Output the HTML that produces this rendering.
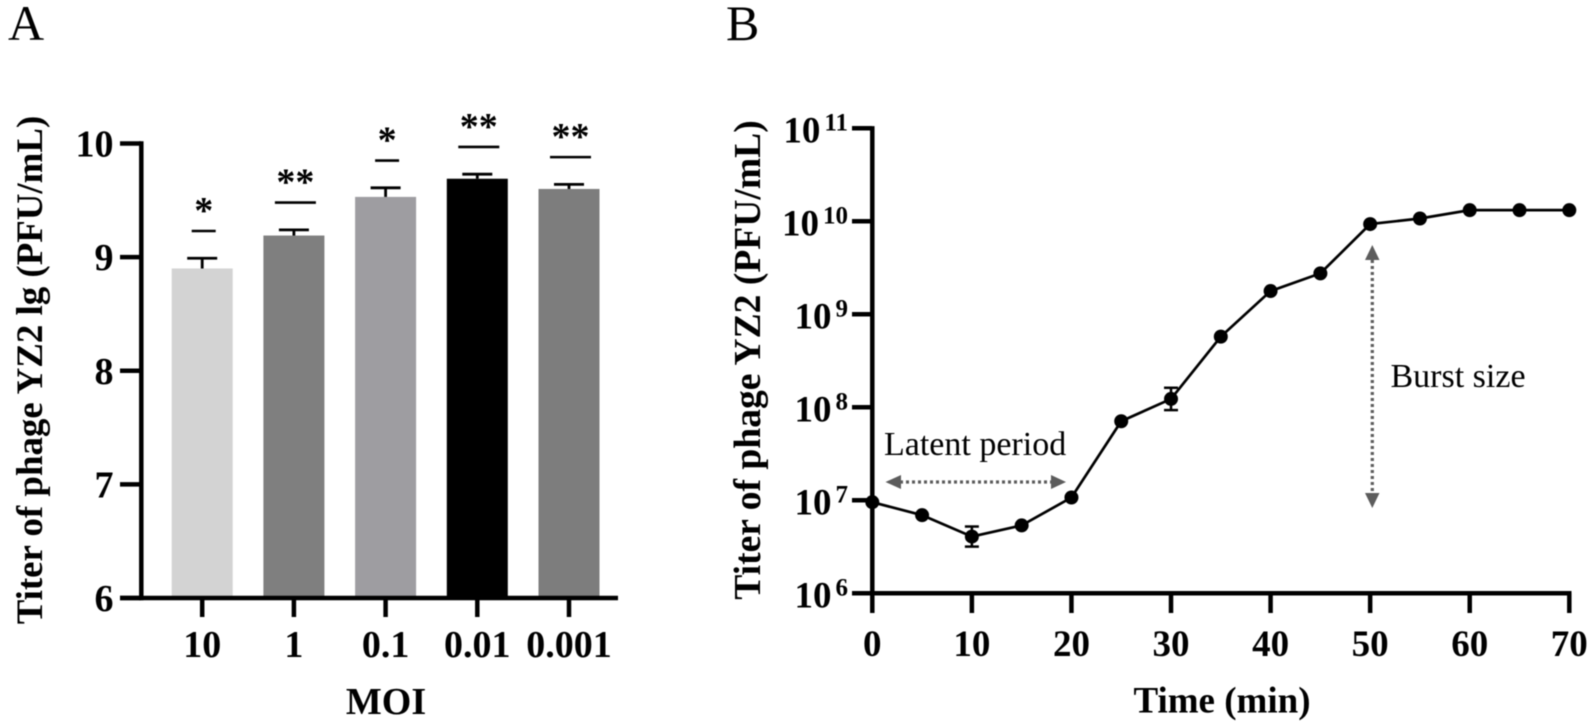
<!DOCTYPE html>
<html>
<head>
<meta charset="utf-8">
<title>Phage YZ2 titer charts</title>
<style>
html,body{margin:0;padding:0;background:#fff;width:1595px;height:728px;overflow:hidden}
svg{display:block;filter:blur(0.45px)}
text{font-family:"Liberation Serif",serif;fill:#000}
.b{font-weight:bold}
</style>
</head>
<body>
<svg id="fig" xmlns="http://www.w3.org/2000/svg" width="1595" height="728" viewBox="0 0 1595 728">
<rect width="1595" height="728" fill="#fff"/>
<text x="8" y="40" font-size="50">A</text>
<text x="726" y="40" font-size="50">B</text>
<g id="a"></g>
<g id="b"></g>
</svg>
<script>
// Panel A data
const moiCategories = ['10', '1', '0.1', '0.01', '0.001'];
const titerValues = [8.9, 9.19, 9.53, 9.69, 9.6];
const titerErrors = [0.09, 0.05, 0.08, 0.04, 0.04];
const sigLineValues = [9.23, 9.48, 9.85, 9.97, 9.88];
const sigLabels = ['*', '**', '*', '**', '**'];
const barColors = ['#d3d3d3', '#7f7f7f', '#9e9da1', '#000000', '#7d7d7d'];
const yTicksA = [6, 7, 8, 9, 10];

// Panel B data
const timeValues = [0, 5, 10, 15, 20, 25, 30, 35, 40, 45, 50, 55, 60, 65, 70];
const logTiter = [6.98, 6.84, 6.61, 6.73, 7.03, 7.85, 8.09, 8.76, 9.25, 9.44, 9.97, 10.03, 10.12, 10.12, 10.12];
const logTiterErr = [0, 0, 0.108, 0, 0, 0, 0.12, 0, 0, 0, 0, 0, 0, 0, 0];
const xTicksB = [0, 10, 20, 30, 40, 50, 60, 70];
const yExponents = [6, 7, 8, 9, 10, 11];

const NS = 'http://www.w3.org/2000/svg';
function mk(parent, tag, attrs, txt) {
  const e = document.createElementNS(NS, tag);
  for (const k in attrs) e.setAttribute(k, attrs[k]);
  if (txt !== undefined) e.textContent = txt;
  parent.appendChild(e);
  return e;
}
function line(parent, x1, y1, x2, y2, w, c) {
  return mk(parent, 'line', {x1: x1, y1: y1, x2: x2, y2: y2, stroke: c || '#000', 'stroke-width': w});
}

/* ---------- Panel A ---------- */
const A = document.getElementById('a');
const yA = v => 598 + (v - 6) * (143.5 - 598) / 4;
const xA = i => 202.2 + i * 91.7;
const BAR_W = 61;

moiCategories.forEach((c, i) => {
  const v = titerValues[i], cx = xA(i);
  const bar = mk(A, 'rect', {x: cx - BAR_W / 2, y: yA(v), width: BAR_W, height: yA(6) - yA(v), fill: barColors[i]});
  
  

  const top = yA(v + titerErrors[i]);
  const errStem = line(A, cx, yA(v), cx, top, 2.8);
  
  
  const errCap = line(A, cx - 15, top, cx + 15, top, 2.8);
  
  

  const halfLine = sigLabels[i].length > 1 ? 20.5 : 12;
  const sig = line(A, cx + 1.5 - halfLine, yA(sigLineValues[i]), cx + 1.5 + halfLine, yA(sigLineValues[i]), 2.6);
  
  
  const star = mk(A, 'text', {x: cx + 1.5, y: yA(sigLineValues[i]) - 8, 'font-size': 38, 'text-anchor': 'middle', class: 'b'}, sigLabels[i]);
  
  

  const tick = line(A, cx, 598, cx, 617, 4.5);
  
  
  const lab = mk(A, 'text', {x: cx, y: 657, 'font-size': 38, 'text-anchor': 'middle', class: 'b'}, c);
  
  
});

yTicksA.forEach(t => {
  const tick = line(A, 120, yA(t), 141, yA(t), 4.5);
  
  
  const lab = mk(A, 'text', {x: 113.5, y: yA(t) + 13, 'font-size': 38, 'text-anchor': 'end', class: 'b'}, String(t));
  
  
});

const axYA = line(A, 141.3, yA(10) - 2.2, 141.3, yA(6) + 2.2, 4.5);


const axXA = line(A, 120, 598, 618, 598, 4.5);



const xTitleA = mk(A, 'text', {x: 386, y: 714, 'font-size': 38, 'text-anchor': 'middle', class: 'b'}, 'MOI');


const yTitleA = mk(A, 'text', {x: 0, y: 0, 'font-size': 36.9, 'text-anchor': 'middle', class: 'b', transform: 'translate(42,370) rotate(-90)'}, 'Titer of phage YZ2 lg (PFU/mL)');



/* ---------- Panel B ---------- */
const B = document.getElementById('b');
const xB = t => 872.3 + t * (1569.3 - 872.3) / 70;
const yB = v => 593.3 + (v - 6) * (128.3 - 593.3) / 5;

yExponents.forEach(e => {
  const y = yB(e);
  const tick = line(B, 852, y, 872, y, 4.5);
  
  
  const lab = mk(B, 'text', {x: 848, y: y + 14, 'font-size': 37, 'text-anchor': 'end', class: 'b'});
  
  
  const base = mk(lab, 'tspan', {}, '10');
  
  
  const sup = mk(lab, 'tspan', {dx: 4, dy: -12, 'font-size': 25}, String(e));
  
  
});

xTicksB.forEach(t => {
  const x = xB(t);
  const tick = line(B, x, 593.3, x, 613, 4.5);
  
  
  const lab = mk(B, 'text', {x: x, y: 656, 'font-size': 37, 'text-anchor': 'middle', class: 'b'}, String(t));
  
  
});

const axYB = line(B, 872.3, yB(11) - 2.2, 872.3, 593.3, 4.5);


const axXB = line(B, 852, 593.3, 1571.5, 593.3, 4.5);



const series = mk(B, 'polyline', {
  points: timeValues.map((t, i) => xB(t) + ',' + yB(logTiter[i])).join(' '),
  fill: 'none', stroke: '#000', 'stroke-width': 2.7
});



timeValues.forEach((t, i) => {
  const x = xB(t), v = logTiter[i], err = logTiterErr[i];
  if (err > 0) {
    const s = line(B, x, yB(v + err), x, yB(v - err), 2.5);
    
    
    const c1 = line(B, x - 7, yB(v + err), x + 7, yB(v + err), 2.5);
    
    
    const c2 = line(B, x - 7, yB(v - err), x + 7, yB(v - err), 2.5);
    
    
  }
  const pt = mk(B, 'circle', {cx: x, cy: yB(v), r: 7, fill: '#000'});
  
  
});

/* annotations */
const ARW = '#5c5c5c';
const latLine = mk(B, 'line', {x1: 900, y1: 482, x2: 1052, y2: 482, stroke: ARW, 'stroke-width': 3.2, 'stroke-dasharray': '3 3'});


const latL = mk(B, 'polygon', {points: '885.5,482 901,475 901,489', fill: ARW});


const latR = mk(B, 'polygon', {points: '1066,482 1051,475 1051,489', fill: ARW});


const latT = mk(B, 'text', {x: 884, y: 455, 'font-size': 34}, 'Latent period');



const burLine = mk(B, 'line', {x1: 1372.3, y1: 260, x2: 1372.3, y2: 494, stroke: ARW, 'stroke-width': 3.2, 'stroke-dasharray': '3 3'});


const burU = mk(B, 'polygon', {points: '1372.3,245 1365,260 1379.5,260', fill: ARW});


const burD = mk(B, 'polygon', {points: '1372.3,508 1365,493 1379.5,493', fill: ARW});


const burT = mk(B, 'text', {x: 1390.5, y: 387, 'font-size': 34}, 'Burst size');



const xTitleB = mk(B, 'text', {x: 1222, y: 712.5, 'font-size': 37, 'text-anchor': 'middle', class: 'b'}, 'Time (min)');


const yTitleB = mk(B, 'text', {x: 0, y: 0, 'font-size': 37.6, 'text-anchor': 'middle', class: 'b', transform: 'translate(760,360) rotate(-90)'}, 'Titer of phage YZ2 (PFU/mL)');


</script>
</body>
</html>
